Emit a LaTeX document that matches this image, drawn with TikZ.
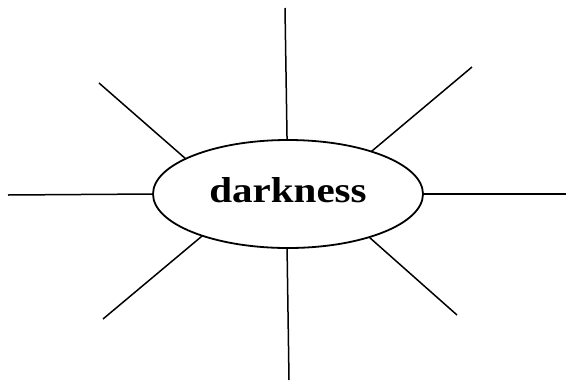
\documentclass[tikz,border=0pt]{standalone}
\usepackage{fontspec}
\setmainfont{Liberation Serif}
\usetikzlibrary{shapes.geometric}
\tikzset{
  ray/.style={line width=1.5pt, black},
  hub/.style={ellipse, draw, line width=1.8pt, minimum width=270pt, minimum height=108pt, inner sep=0pt, outer sep=0pt},
  word/.style={inner sep=0pt, text height=25pt, text depth=9pt, font=\fontsize{36}{40}\selectfont\bfseries}
}
\begin{document}
\begin{tikzpicture}[x=1pt,y=-1pt]
\useasboundingbox (0,0) rectangle (566,381);
\node[hub] (c) at (288,194) {};
\node[word] (w) at (c.center) {\scalebox{1.14}[1]{darkness}};
\coordinate (t) at (285,8);
\coordinate (b) at (289,380);
\coordinate (l) at (8,195);
\coordinate (r) at (566,194);
\coordinate (ul) at (99,83);
\coordinate (ur) at (472,67);
\coordinate (ll) at (103,319);
\coordinate (lr) at (457,315);
\draw[ray] (t) -- (c.91);
\draw[ray] (b) -- (c.269);
\draw[ray] (l) -- (c.180);
\draw[ray] (r) -- (c.0);
\draw[ray] (ul) -- (c.161.9);
\draw[ray] (ur) -- (c.27.4);
\draw[ray] (ll) -- (c.206.3);
\draw[ray] (lr) -- (c.332.9);
\end{tikzpicture}
\end{document}
